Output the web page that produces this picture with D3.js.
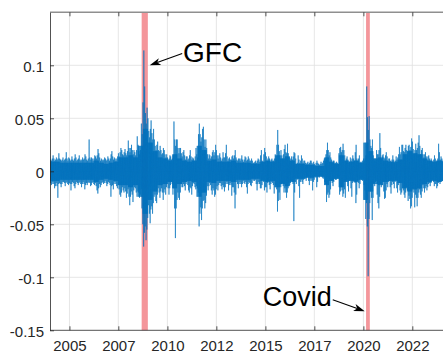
<!DOCTYPE html>
<html><head><meta charset="utf-8">
<script src="https://cdn.jsdelivr.net/npm/d3@7"></script>
<style>
html,body{margin:0;padding:0;background:#fff;}
svg{display:block;font-family:"Liberation Sans",Arial,Helvetica,sans-serif;}
</style></head><body>
<svg id="chart" width="443" height="354"></svg>
<script>
// Daily returns summarised per month, January 2004 .. January 2024:
// largest gain, second-largest gain, largest loss and second-largest loss.
const monthlyHigh = [
  0.014,0.012,0.015,0.011,0.013,0.017,0.012,0.011,0.013,0.012,0.018,0.013, // 2004
  0.012,0.014,0.011,0.016,0.013,0.012,0.015,0.011,0.013,0.016,0.014,0.012, // 2005
  0.030,0.013,0.012,0.015,0.014,0.021,0.017,0.012,0.011,0.013,0.012,0.014, // 2006
  0.012,0.016,0.019,0.013,0.012,0.014,0.017,0.022,0.020,0.018,0.021,0.019, // 2007
  0.029,0.022,0.025,0.020,0.018,0.033,0.025,0.020,0.045,0.114,0.080,0.060, // 2008
  0.050,0.040,0.048,0.040,0.030,0.025,0.028,0.024,0.020,0.022,0.020,0.016, // 2009
  0.013,0.015,0.014,0.015,0.047,0.030,0.030,0.022,0.022,0.018,0.020,0.014, // 2010
  0.014,0.015,0.020,0.013,0.012,0.022,0.016,0.045,0.035,0.040,0.042,0.030, // 2011
  0.022,0.016,0.015,0.018,0.020,0.025,0.020,0.015,0.017,0.012,0.018,0.017, // 2012
  0.025,0.012,0.013,0.014,0.015,0.020,0.013,0.012,0.012,0.015,0.011,0.014, // 2013
  0.013,0.014,0.012,0.012,0.010,0.009,0.010,0.012,0.011,0.020,0.010,0.022, // 2014
  0.018,0.012,0.014,0.011,0.012,0.012,0.016,0.039,0.025,0.020,0.015,0.021, // 2015
  0.025,0.026,0.017,0.012,0.014,0.018,0.017,0.008,0.015,0.010,0.015,0.010, // 2016
  0.010,0.008,0.009,0.010,0.010,0.009,0.007,0.010,0.008,0.007,0.009,0.010, // 2017
  0.012,0.020,0.027,0.018,0.013,0.010,0.010,0.009,0.008,0.022,0.023,0.026, // 2018
  0.020,0.012,0.014,0.009,0.013,0.015,0.012,0.025,0.012,0.015,0.009,0.010, // 2019
  0.012,0.015,0.080,0.052,0.030,0.030,0.015,0.012,0.020,0.020,0.036,0.015, // 2020
  0.016,0.015,0.018,0.012,0.012,0.011,0.015,0.010,0.014,0.016,0.023,0.025, // 2021
  0.025,0.022,0.025,0.024,0.025,0.031,0.028,0.020,0.026,0.027,0.034,0.020, // 2022
  0.022,0.016,0.018,0.014,0.015,0.012,0.010,0.015,0.012,0.012,0.026,0.014, // 2023
  0.012                                                                      // 2024
];
const monthlyHigh2 = [
  0.011,0.010,0.012,0.010,0.011,0.012,0.011,0.010,0.010,0.011,0.012,0.010, // 2004
  0.010,0.011,0.010,0.012,0.010,0.011,0.011,0.010,0.011,0.012,0.011,0.010, // 2005
  0.013,0.011,0.010,0.012,0.012,0.015,0.013,0.010,0.010,0.011,0.010,0.011, // 2006
  0.010,0.012,0.014,0.011,0.010,0.012,0.014,0.018,0.016,0.015,0.017,0.015, // 2007
  0.022,0.018,0.020,0.016,0.015,0.020,0.019,0.016,0.035,0.065,0.055,0.045, // 2008
  0.038,0.032,0.036,0.030,0.024,0.020,0.020,0.019,0.016,0.017,0.016,0.013, // 2009
  0.011,0.012,0.011,0.012,0.030,0.024,0.022,0.017,0.017,0.014,0.015,0.011, // 2010
  0.011,0.012,0.014,0.011,0.010,0.014,0.013,0.035,0.028,0.032,0.030,0.023, // 2011
  0.016,0.012,0.012,0.014,0.015,0.018,0.015,0.012,0.013,0.010,0.013,0.013, // 2012
  0.014,0.010,0.011,0.011,0.012,0.015,0.011,0.010,0.010,0.012,0.009,0.011, // 2013
  0.010,0.011,0.010,0.010,0.008,0.008,0.008,0.010,0.009,0.015,0.009,0.016, // 2014
  0.014,0.010,0.012,0.009,0.010,0.010,0.012,0.025,0.019,0.015,0.012,0.016, // 2015
  0.018,0.017,0.013,0.010,0.011,0.014,0.012,0.007,0.011,0.008,0.012,0.008, // 2016
  0.008,0.007,0.007,0.008,0.008,0.007,0.006,0.008,0.007,0.006,0.007,0.008, // 2017
  0.010,0.016,0.020,0.015,0.011,0.008,0.008,0.008,0.007,0.017,0.018,0.020, // 2018
  0.015,0.010,0.011,0.008,0.010,0.012,0.010,0.018,0.010,0.012,0.008,0.009, // 2019
  0.010,0.012,0.051,0.039,0.024,0.022,0.012,0.010,0.016,0.016,0.022,0.012, // 2020
  0.013,0.012,0.014,0.010,0.010,0.009,0.011,0.008,0.011,0.013,0.016,0.018, // 2021
  0.019,0.018,0.020,0.019,0.020,0.023,0.021,0.016,0.020,0.022,0.024,0.016, // 2022
  0.016,0.013,0.014,0.011,0.012,0.010,0.009,0.011,0.010,0.010,0.018,0.011, // 2023
  0.010                                                                      // 2024
];
const monthlyLow = [
  -0.013,-0.012,-0.016,-0.014,-0.025,-0.012,-0.015,-0.012,-0.011,-0.014,-0.012,-0.013, // 2004
  -0.018,-0.012,-0.014,-0.016,-0.011,-0.013,-0.012,-0.015,-0.012,-0.017,-0.013,-0.011, // 2005
  -0.014,-0.013,-0.012,-0.013,-0.018,-0.021,-0.015,-0.013,-0.012,-0.011,-0.014,-0.012, // 2006
  -0.013,-0.024,-0.017,-0.012,-0.014,-0.016,-0.022,-0.024,-0.018,-0.020,-0.025,-0.021, // 2007
  -0.032,-0.024,-0.029,-0.018,-0.020,-0.024,-0.025,-0.022,-0.050,-0.071,-0.065,-0.055, // 2008
  -0.040,-0.049,-0.040,-0.030,-0.028,-0.030,-0.020,-0.025,-0.020,-0.027,-0.022,-0.015, // 2009
  -0.022,-0.016,-0.012,-0.022,-0.063,-0.035,-0.025,-0.027,-0.015,-0.015,-0.018,-0.012, // 2010
  -0.018,-0.020,-0.022,-0.014,-0.015,-0.017,-0.020,-0.052,-0.046,-0.035,-0.035,-0.030, // 2011
  -0.018,-0.014,-0.018,-0.022,-0.024,-0.022,-0.018,-0.013,-0.014,-0.017,-0.019,-0.015, // 2012
  -0.012,-0.018,-0.013,-0.023,-0.020,-0.035,-0.012,-0.016,-0.012,-0.015,-0.011,-0.012, // 2013
  -0.021,-0.012,-0.013,-0.014,-0.009,-0.009,-0.018,-0.012,-0.016,-0.016,-0.010,-0.018, // 2014
  -0.020,-0.011,-0.017,-0.012,-0.013,-0.021,-0.017,-0.038,-0.027,-0.015,-0.014,-0.020, // 2015
  -0.025,-0.020,-0.013,-0.011,-0.012,-0.047,-0.012,-0.008,-0.025,-0.010,-0.012,-0.008, // 2016
  -0.009,-0.006,-0.013,-0.009,-0.018,-0.010,-0.006,-0.015,-0.006,-0.005,-0.006,-0.007, // 2017
  -0.012,-0.029,-0.025,-0.022,-0.011,-0.014,-0.008,-0.008,-0.007,-0.022,-0.018,-0.024, // 2018
  -0.025,-0.009,-0.019,-0.009,-0.024,-0.011,-0.011,-0.030,-0.011,-0.016,-0.008,-0.009, // 2019
  -0.018,-0.045,-0.099,-0.045,-0.025,-0.046,-0.014,-0.010,-0.030,-0.035,-0.015,-0.013, // 2020
  -0.026,-0.025,-0.015,-0.010,-0.021,-0.013,-0.016,-0.010,-0.020,-0.013,-0.022,-0.020, // 2021
  -0.022,-0.025,-0.018,-0.028,-0.035,-0.033,-0.020,-0.034,-0.033,-0.025,-0.022,-0.025, // 2022
  -0.016,-0.020,-0.018,-0.015,-0.014,-0.011,-0.010,-0.014,-0.016,-0.014,-0.012,-0.010, // 2023
  -0.010                                                                                // 2024
];
const monthlyLow2 = [
  -0.011,-0.010,-0.012,-0.011,-0.014,-0.011,-0.012,-0.010,-0.010,-0.011,-0.010,-0.011, // 2004
  -0.012,-0.010,-0.011,-0.012,-0.010,-0.011,-0.010,-0.012,-0.010,-0.013,-0.011,-0.010, // 2005
  -0.011,-0.011,-0.010,-0.011,-0.014,-0.016,-0.012,-0.011,-0.010,-0.009,-0.011,-0.010, // 2006
  -0.011,-0.014,-0.013,-0.010,-0.012,-0.013,-0.017,-0.020,-0.015,-0.016,-0.019,-0.017, // 2007
  -0.024,-0.019,-0.022,-0.015,-0.016,-0.019,-0.020,-0.017,-0.035,-0.058,-0.052,-0.044, // 2008
  -0.032,-0.036,-0.033,-0.024,-0.022,-0.022,-0.016,-0.019,-0.016,-0.020,-0.017,-0.012, // 2009
  -0.016,-0.013,-0.010,-0.016,-0.035,-0.027,-0.020,-0.020,-0.012,-0.012,-0.014,-0.010, // 2010
  -0.013,-0.015,-0.016,-0.011,-0.012,-0.014,-0.016,-0.040,-0.034,-0.028,-0.027,-0.023, // 2011
  -0.014,-0.011,-0.013,-0.016,-0.018,-0.017,-0.014,-0.011,-0.011,-0.013,-0.015,-0.012, // 2012
  -0.010,-0.013,-0.011,-0.015,-0.015,-0.022,-0.010,-0.012,-0.010,-0.012,-0.009,-0.010, // 2013
  -0.015,-0.010,-0.011,-0.011,-0.008,-0.008,-0.012,-0.010,-0.012,-0.013,-0.008,-0.015, // 2014
  -0.015,-0.009,-0.013,-0.010,-0.011,-0.015,-0.013,-0.028,-0.020,-0.012,-0.011,-0.016, // 2015
  -0.020,-0.016,-0.011,-0.009,-0.010,-0.020,-0.010,-0.007,-0.014,-0.008,-0.010,-0.007, // 2016
  -0.007,-0.005,-0.009,-0.007,-0.009,-0.008,-0.005,-0.010,-0.005,-0.004,-0.005,-0.006, // 2017
  -0.010,-0.022,-0.020,-0.017,-0.009,-0.010,-0.007,-0.007,-0.006,-0.019,-0.015,-0.021, // 2018
  -0.017,-0.008,-0.014,-0.008,-0.016,-0.009,-0.009,-0.022,-0.009,-0.012,-0.007,-0.008, // 2019
  -0.013,-0.030,-0.052,-0.030,-0.019,-0.025,-0.011,-0.009,-0.022,-0.024,-0.012,-0.010, // 2020
  -0.019,-0.018,-0.012,-0.009,-0.015,-0.010,-0.012,-0.008,-0.016,-0.011,-0.018,-0.016, // 2021
  -0.018,-0.020,-0.015,-0.023,-0.026,-0.025,-0.016,-0.022,-0.025,-0.020,-0.017,-0.019, // 2022
  -0.013,-0.016,-0.014,-0.012,-0.011,-0.009,-0.008,-0.012,-0.012,-0.011,-0.010,-0.009, // 2023
  -0.009                                                                                // 2024
];
// Typical daily swing (half-width of the dense band) per quarter, Q1 2004 .. Q1 2024.
const quarterlyCore = [
  0.009,0.009,0.008,0.008,  0.008,0.008,0.008,0.008,  0.008,0.010,0.008,0.007,
  0.008,0.009,0.013,0.013,  0.015,0.013,0.024,0.040,  0.027,0.019,0.013,0.012,
  0.010,0.016,0.012,0.010,  0.009,0.010,0.024,0.020,  0.010,0.011,0.009,0.009,
  0.009,0.010,0.008,0.008,  0.008,0.007,0.007,0.009,  0.010,0.009,0.015,0.012,
  0.014,0.010,0.007,0.007,  0.006,0.006,0.005,0.005,  0.013,0.009,0.007,0.015,
  0.010,0.009,0.010,0.008,  0.027,0.019,0.012,0.013,  0.010,0.009,0.009,0.011,
  0.016,0.019,0.017,0.016,  0.012,0.010,0.009,0.010,  0.009
];

const yTicks = [-0.15, -0.1, -0.05, 0, 0.05, 0.1];
const yTickLabels = ["-0.15", "-0.1", "-0.05", "0", "0.05", "0.1"];
const xTickDates = [[2005,0],[2007,6],[2010,0],[2012,6],[2015,0],[2017,6],[2020,0],[2022,6]];
const xTickLabels = ["2005", "2007", "2010", "2012", "2015", "2017", "2020", "2022"];
const crisisNames = ["GFC", "Covid"];
const crisisStarts = [[2008,8,8], [2020,1,20]];
const crisisEnds = [[2009,0,1], [2020,3,30]];

const utc = a => new Date(Date.UTC(a[0], a[1], a[2] || 1));

const svg = d3.select("#chart");
const W = 443, H = 354;
const plotL = 50, plotT = 12.3, plotB = 330.3;

const x = d3.scaleUtc()
  .domain([utc([2004,0,1]), utc([2024,2,1])])
  .range([49.8, 445.0]);
const y = d3.scaleLinear().domain([-0.15, 0.15]).range([plotB, plotT]);

svg.append("rect").attr("width", W).attr("height", H).attr("fill", "#fff");

svg.append("defs").append("clipPath").attr("id", "plot")
  .append("rect").attr("x", plotL).attr("y", plotT).attr("width", W - plotL).attr("height", plotB - plotT);

// grid
const grid = svg.append("g").attr("stroke", "#e0e0e0").attr("stroke-width", 0.8);
grid.selectAll("line.v").data(xTickDates).join("line").attr("class", "v")
  .attr("x1", d => x(utc(d))).attr("x2", d => x(utc(d)))
  .attr("y1", plotT).attr("y2", plotB);
grid.selectAll("line.h").data(yTicks.filter(v => v > -0.15)).join("line").attr("class", "h")
  .attr("x1", plotL).attr("x2", W)
  .attr("y1", d => y(d)).attr("y2", d => y(d));

// crisis shading
svg.append("g").selectAll("rect").data(crisisNames).join("rect")
  .attr("x", (d, i) => x(utc(crisisStarts[i])))
  .attr("width", (d, i) => x(utc(crisisEnds[i])) - x(utc(crisisStarts[i])))
  .attr("y", plotT).attr("height", plotB - plotT)
  .attr("fill", "#f4969b");

// returns trace: each month visits its two biggest gains, its two biggest
// losses and the edges of the dense band in between
const start = utc([2004,0,1]);
const pts = [];
monthlyHigh.forEach((h, i) => {
  const a = d3.utcMonth.offset(start, i), b = d3.utcMonth.offset(start, i + 1);
  const c = quarterlyCore[Math.floor(i / 3)];
  const at = f => new Date(+a + f * (b - a));
  const seq = i % 2
    ? [monthlyHigh2[i], -c, c, monthlyLow[i], h, -c, c, monthlyLow2[i]]
    : [h, -c, c, monthlyLow2[i], monthlyHigh2[i], -c, c, monthlyLow[i]];
  seq.forEach((v, k) => pts.push({t: at((k + 0.5) / seq.length), v}));
});
svg.append("path")
  .attr("clip-path", "url(#plot)")
  .attr("d", d3.line().x(d => x(d.t)).y(d => y(d.v))(pts))
  .attr("fill", "none").attr("stroke", "#0072bd").attr("stroke-width", 0.6);

// axes
const axisColor = "#262626";
const fs = 15;
const xAxisB = d3.axisBottom(x).tickValues(xTickDates.map(utc))
  .tickFormat((d, i) => xTickLabels[i]).tickSizeInner(-4).tickSizeOuter(0).tickPadding(10.4);
const gB = svg.append("g").attr("transform", `translate(0,${plotB})`).call(xAxisB);
const xAxisT = d3.axisTop(x).tickValues(xTickDates.map(utc))
  .tickFormat("").tickSizeInner(-4).tickSizeOuter(0);
const gT = svg.append("g").attr("transform", `translate(0,${plotT})`).call(xAxisT);
const yAxis = d3.axisLeft(y).tickValues(yTicks)
  .tickFormat((d, i) => yTickLabels[i]).tickSizeInner(-4).tickSizeOuter(0).tickPadding(6);
const gL = svg.append("g").attr("transform", `translate(${plotL},0)`).call(yAxis);
[gB, gT, gL].forEach(g => {
  g.select(".domain").attr("stroke", axisColor).attr("stroke-width", 0.8);
  g.selectAll(".tick line").attr("stroke", axisColor).attr("stroke-width", 0.8);
  g.selectAll("text").attr("fill", axisColor).attr("font-size", fs)
    .attr("font-family", '"Liberation Sans", Arial, sans-serif');
});
gL.selectAll("text").attr("dy", "0.42em");
gB.select(".domain").attr("d", `M${plotL},0H${W}`);
gT.select(".domain").attr("d", `M${plotL},0H${W}`).attr("stroke", "#8f8f8f").attr("stroke-width", 1.6);

// annotations
function arrow(x0, y0, x1, y1) {
  const ang = Math.atan2(y1 - y0, x1 - x0);
  const L = 11, Wd = 3.6, notch = 8;
  const g = svg.append("g").attr("fill", "#000").attr("stroke", "#000");
  const ex = x1 - Math.cos(ang) * notch, ey = y1 - Math.sin(ang) * notch;
  g.append("line").attr("x1", x0).attr("y1", y0).attr("x2", ex).attr("y2", ey).attr("stroke-width", 1.1);
  const p = (dx, dy) => [x1 + Math.cos(ang) * dx - Math.sin(ang) * dy, y1 + Math.sin(ang) * dx + Math.cos(ang) * dy];
  g.append("path").attr("stroke", "none")
    .attr("d", "M" + [p(0,0), p(-L,-Wd), p(-notch,0), p(-L,Wd)].map(q => q.join(",")).join("L") + "Z");
}
const gfcTip = [x(utc([2009,1,5])), y(0.1)];
arrow(gfcTip[0] + 32.5, gfcTip[1] - 11.7, gfcTip[0], gfcTip[1]);
svg.append("text").attr("x", gfcTip[0] + 33.3).attr("y", gfcTip[1] - 3.7)
  .attr("font-size", 28).attr("fill", "#000").text(crisisNames[0]);

const covidTip = [x(utc([2020,0,26])), y(-0.132)];
arrow(covidTip[0] - 32, covidTip[1] - 11.5, covidTip[0], covidTip[1]);
svg.append("text").attr("x", covidTip[0] - 102).attr("y", covidTip[1] - 5.5)
  .attr("font-size", 27).attr("fill", "#000").text(crisisNames[1]);
</script>
</body></html>
